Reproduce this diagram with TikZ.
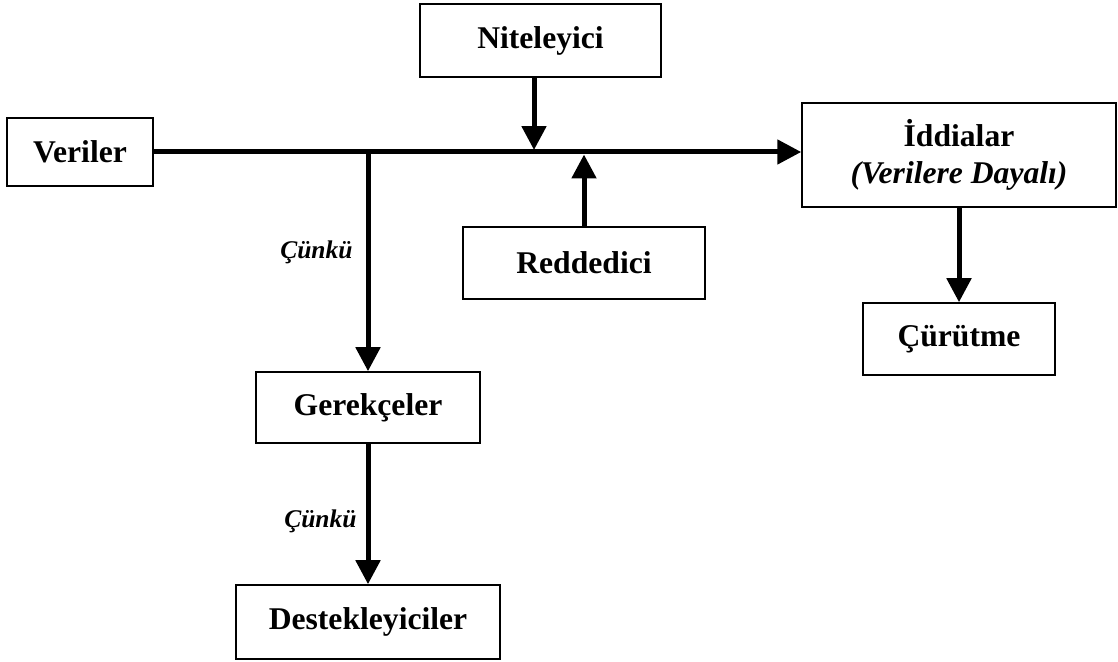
\documentclass[tikz,border=0pt]{standalone}
\usepackage{fontspec}
\setmainfont{Liberation Serif}
\usetikzlibrary{arrows.meta,positioning,calc}
\tikzset{
  box/.style={draw=black, line width=0.9pt, align=center, fill=white, inner sep=2pt, font=\fontsize{18}{21}\selectfont\bfseries},
  arr/.style={-{Triangle[length=0.48cm, width=0.48cm]}, line width=0.1cm, draw=black},
  lbl/.style={inner sep=0pt, font=\fontsize{14.5}{17}\selectfont\bfseries\itshape}
}
\begin{document}
\begin{tikzpicture}[x=0.02cm, y=-0.02cm]
\useasboundingbox (0,0) rectangle (1118,662);
\node[box, minimum width=2.92cm, minimum height=1.36cm] (veri) at (80,152) {Veriler};
\node[box, minimum width=4.82cm, minimum height=1.46cm] (nitel) at (540.5,40.5) {Niteleyici};
\node[box, minimum width=6.28cm, minimum height=2.08cm] (iddia) at (959,155) {İddialar\\\textit{(Verilere Dayalı)}};
\node[box, minimum width=4.84cm, minimum height=1.44cm] (redd) at (584,263) {Reddedici};
\node[box, minimum width=3.84cm, minimum height=1.44cm] (curut) at (959,339) {Çürütme};
\node[box, minimum width=4.48cm, minimum height=1.42cm] (gerek) at (368,407.5) {Gerekçeler};
\node[box, minimum width=5.28cm, minimum height=1.48cm] (destek) at (368,622) {Destekleyiciler};
% junction points on the main line
\coordinate (q) at (534,150);
\coordinate (r) at (584,154.5);
\draw[arr] (veri.east) -- (veri.east -| iddia.west);
\draw[arr] (veri.east -| gerek.north) -- node[lbl, pos=0.46, left=0.26cm] (c1) {Çünkü} (gerek.north);
\draw[arr] (nitel.south -| q) -- (q);
\draw[arr] (redd.north) -- (r);
\draw[arr] (iddia.south) -- (curut.north);
\draw[arr] (gerek.south) -- node[lbl, pos=0.55, left=0.18cm] (c2) {Çünkü} (destek.north);
\end{tikzpicture}
\end{document}
